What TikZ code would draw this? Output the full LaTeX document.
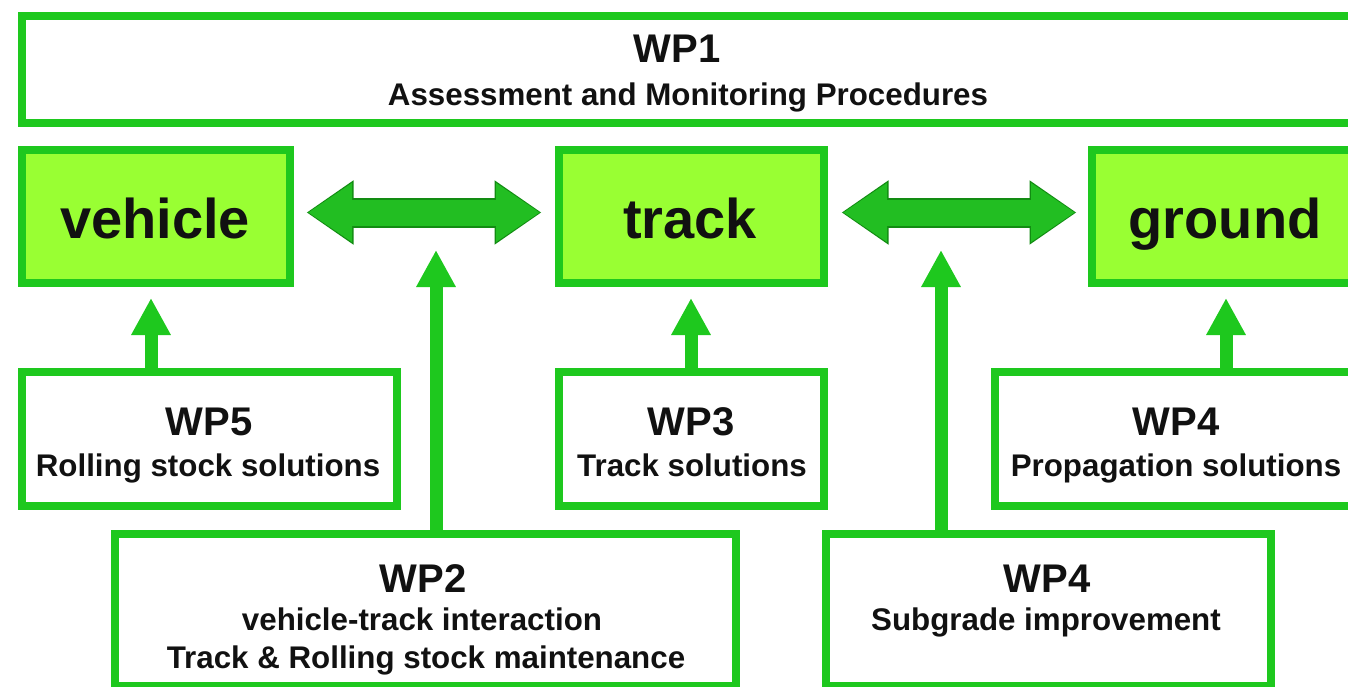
\documentclass[tikz,border=0pt]{standalone}
\usepackage{fontspec}
\setmainfont{Liberation Sans}
\usetikzlibrary{arrows.meta}
\definecolor{boxgreen}{RGB}{30,200,30}
\definecolor{keyfill}{RGB}{153,255,51}
\definecolor{arrowfill}{RGB}{34,190,34}
\definecolor{arrowedge}{RGB}{18,140,18}
\definecolor{ink}{RGB}{17,17,17}
\begin{document}
\begin{tikzpicture}[x=1pt,y=-1pt,
  wpbox/.style={draw=boxgreen, line width=8.5pt, fill=white, rectangle,
                inner sep=0pt, outer sep=0pt},
  keybox/.style={wpbox, fill=keyfill},
  hd/.style={font=\bfseries\fontsize{40}{42}\selectfont, text=ink, anchor=base},
  sub/.style={font=\bfseries\fontsize{31.3}{33}\selectfont, text=ink, anchor=base},
  big/.style={font=\bfseries\fontsize{56}{58}\selectfont, text=ink, anchor=base},
  linkedge/.style={draw=arrowedge, line width=30pt,
    {Triangle[length=47pt,width=61pt]}-{Triangle[length=47pt,width=61pt]}},
  linkfill/.style={draw=arrowfill, line width=26pt,
    {Triangle[length=44pt,width=56pt]}-{Triangle[length=44pt,width=56pt]}},
  feed/.style={draw=boxgreen, line width=13pt,
    -{Triangle[length=37pt,width=37pt]}}]
\useasboundingbox (0,0) rectangle (1348,687);
\clip (0,0) rectangle (1348,687);
\fill[white] (0,0) rectangle (1348,687);

% work package boxes
\node[wpbox, minimum width=1334pt, minimum height=107pt] (wp1) at (689,69.5) {};
\node[keybox, minimum width=268pt, minimum height=133pt] (vehicle) at (156,216.5) {};
\node[keybox, minimum width=265pt, minimum height=133pt] (track) at (691.5,216.5) {};
\node[keybox, minimum width=264pt, minimum height=133pt] (ground) at (1224,216.5) {};
\node[wpbox, minimum width=375pt, minimum height=134pt] (wp5) at (209.5,439) {};
\node[wpbox, minimum width=265pt, minimum height=134pt] (wp3) at (691.5,439) {};
\node[wpbox, minimum width=361pt, minimum height=134pt] (wp4p) at (1175.5,439) {};
\node[wpbox, minimum width=621pt, minimum height=152pt] (wp2) at (425.5,610) {};
\node[wpbox, minimum width=445pt, minimum height=152pt] (wp4s) at (1048.5,610) {};

% labels
\node[hd]  (t1a) at (677,63) {WP1};
\node[sub] (t1b) at (688,106) {Assessment and Monitoring Procedures};
\node[big] (tv) at (155,238) {vehicle};
\node[big] (tt) at (690,238) {track};
\node[big] (tg) at (1225,238) {ground};
\node[hd]  (t5a) at (209,435) {WP5};
\node[sub] (t5b) at (208,476) {Rolling stock solutions};
\node[hd]  (t3a) at (691,435) {WP3};
\node[sub] (t3b) at (692,476) {Track solutions};
\node[hd]  (t4a) at (1176,435) {WP4};
\node[sub] (t4b) at (1176,476) {Propagation solutions};
\node[hd]  (t2a) at (423,592) {WP2};
\node[sub] (t2b) at (422,630) {vehicle-track interaction};
\node[sub] (t2c) at (426,668) {Track \& Rolling stock maintenance};
\node[hd]  (t6a) at (1047,592) {WP4};
\node[sub] (t6b) at (1046,630) {Subgrade improvement};

% two-way links between the key boxes
\draw[linkedge, shorten <=16.5pt, shorten >=17.5pt]
  ([yshift=4pt]vehicle.east) -- ([yshift=4pt]track.west);
\draw[linkfill, shorten <=18pt, shorten >=19pt]
  ([yshift=4pt]vehicle.east) -- ([yshift=4pt]track.west);
\draw[linkedge, shorten <=17.5pt, shorten >=15.5pt]
  ([yshift=4pt]track.east) -- ([yshift=4pt]ground.west);
\draw[linkfill, shorten <=19pt, shorten >=17pt]
  ([yshift=4pt]track.east) -- ([yshift=4pt]ground.west);

% feeding arrows
\coordinate (x5) at (151,0);
\coordinate (x3) at (691,0);
\coordinate (x4) at (1226,0);
\coordinate (i2) at (436,250);
\coordinate (i4) at (941,250);
\draw[feed, shorten >=15pt] (wp5.north -| x5) -- (vehicle.south -| x5);
\draw[feed, shorten >=15pt] (wp3.north -| x3) -- (track.south -| x3);
\draw[feed, shorten >=15pt] (wp4p.north -| x4) -- (ground.south -| x4);
\draw[feed] (wp2.north -| i2) -- (i2);
\draw[feed] (wp4s.north -| i4) -- (i4);
\end{tikzpicture}
\end{document}
